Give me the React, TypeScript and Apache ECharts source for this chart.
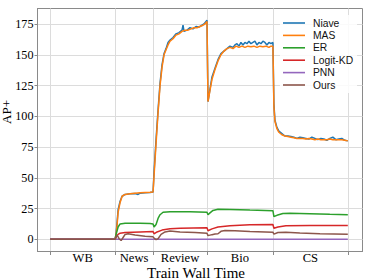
import React, { useEffect, useRef } from "react";
import * as echarts from "echarts";

const seriesNames = ["Niave", "MAS", "ER", "Logit-KD", "PNN", "Ours"];
const colors = ["#1f77b4", "#ff7f0e", "#2ca02c", "#d62728", "#9467bd", "#8c564b"];

const taskNames = ["WB", "News", "Review", "Bio", "CS"];
const taskBoundaries = [0, 65, 103, 157, 223, 298];
const taskLabelPos = [32.5, 84, 130, 190, 260.5];
const yTicks = [0, 25, 50, 75, 100, 125, 150, 175];

const niave = [
  [0, 0], [65, 0],
  [66, 5], [67, 14], [68, 24], [70, 31], [72, 35], [75, 36.5], [80, 37], [85, 37.2], [88, 36.5], [90, 37.5], [95, 37.8], [100, 38], [103, 38.5],
  [104, 55], [106, 81], [108, 105], [110, 127], [112, 142], [114, 151], [116, 155], [118, 160], [120, 162], [123, 164], [126, 167], [129, 168], [132, 170], [133, 174], [134, 169], [137, 170], [140, 172], [143, 171], [146, 173], [149, 172.5], [152, 174], [154, 175], [155, 176], [156, 177], [157, 178],
  [158, 112], [160, 122], [162, 132], [165, 139], [168, 146], [171, 151], [174, 153], [177, 155], [180, 157], [183, 156], [185, 158], [187, 159], [189, 157], [191, 160], [193, 158], [195, 160], [197, 159], [199, 161], [201, 159], [203, 160], [205, 161], [207, 158], [209, 160], [211, 159], [213, 161], [215, 160], [217, 158], [219, 160], [221, 159], [223, 160],
  [224, 110], [225, 97], [227, 91], [229, 88], [232, 86], [235, 84], [238, 84], [241, 83.5], [244, 83], [247, 82], [250, 83], [253, 82.5], [256, 82], [259, 81.5], [262, 83], [265, 82], [268, 81], [271, 82], [274, 81.5], [277, 80.5], [280, 82], [283, 83], [286, 81], [289, 81.5], [292, 82], [295, 80.5], [298, 80],
];

const mas = [
  [0, 0], [65, 0],
  [66, 4], [67, 12], [68, 22], [70, 30], [72, 35], [75, 36.5], [80, 37], [85, 37.5], [90, 37.8], [95, 38], [100, 38.2], [103, 38.5],
  [104, 52], [106, 78], [108, 103], [110, 125], [112, 140], [114, 150], [116, 154], [118, 158], [120, 161], [123, 163], [126, 166], [129, 167], [132, 169], [135, 170], [138, 170], [141, 171], [144, 172], [147, 172], [150, 173], [153, 174], [155, 175], [157, 177],
  [158, 112], [160, 121], [162, 130], [165, 138], [168, 145], [171, 150], [174, 153], [177, 155], [180, 156], [183, 155], [186, 157], [189, 156], [192, 157], [195, 156], [198, 157], [201, 156.5], [204, 157], [207, 156], [210, 157], [213, 156.5], [216, 157], [219, 156], [221, 157], [223, 157],
  [224, 108], [225, 96], [227, 90], [229, 87], [232, 85], [235, 84], [238, 83.5], [241, 83], [244, 82.5], [247, 82], [250, 82], [253, 82], [256, 81.5], [259, 82], [262, 81.5], [265, 81], [268, 81.5], [271, 81], [274, 81], [277, 81], [280, 81.5], [283, 81], [286, 81], [289, 81], [292, 81], [295, 80.5], [298, 80],
];

const er = [
  [0, 0], [65, 0], [66, 4], [68, 10], [70, 12.5], [75, 13], [90, 13], [100, 12.8], [103, 12.5],
  [104, 10], [106, 12], [108, 17], [110, 20], [113, 22], [120, 22.5], [140, 22.5], [157, 22],
  [158, 20], [160, 21.5], [163, 23.5], [168, 24.5], [180, 24.3], [200, 23.8], [223, 23.3],
  [224, 18.5], [227, 19.5], [233, 21], [240, 21.2], [260, 20.8], [280, 20.3], [298, 20],
];

const logitKD = [
  [0, 0], [65, 0], [66, 2], [68, 4], [70, 5], [75, 5.5], [90, 6], [103, 6.3],
  [104, 4.5], [107, 6], [112, 7.5], [120, 8.5], [130, 9], [157, 9.5],
  [158, 7], [162, 8.5], [168, 10], [180, 11], [200, 11.8], [223, 12],
  [224, 9], [228, 10], [236, 11], [260, 11.3], [298, 11.2],
];

const pnn = [
  [0, 0], [65, 0], [103, 0], [157, 0], [223, 0], [298, 0],
];

const ours = [
  [0, 0], [65, 0], [67, 3.5], [69, 0.5], [71, -1], [73, 1.5], [75, 4], [78, 4.5], [85, 3.5], [95, 2.5], [103, 2],
  [104, 1], [106, -0.3], [108, 0.5], [111, 4], [115, 6], [120, 6.8], [130, 6], [145, 5.5], [157, 5],
  [158, 3], [162, 3.8], [165, 4.3], [168, 4.5], [171, 6.5], [175, 7.2], [185, 7], [200, 6.3], [223, 5.8],
  [224, 4.2], [228, 5.5], [236, 5.8], [250, 5.2], [270, 4.5], [298, 4.2],
];

const allData = [niave, mas, er, logitKD, pnn, ours];

const SERIF = "'Liberation Serif', 'DejaVu Serif', serif";
const SANS = "'Liberation Sans', Arial, sans-serif";

export default function App() {
  const ref = useRef<HTMLDivElement>(null);
  useEffect(() => {
    document.body.style.margin = "0";
    if (!ref.current) return;
    const chart = echarts.init(ref.current, undefined, { renderer: "svg" });
    chart.setOption({
      animation: false,
      grid: {
        left: 37.5,
        right: 11.5,
        top: 8.5,
        bottom: 28.5,
        show: true,
        borderColor: "#8a8a8a",
        borderWidth: 1,
        backgroundColor: "transparent",
      },
      legend: {
        left: 280,
        top: 15,
        orient: "vertical",
        icon: "rect",
        itemWidth: 22,
        itemHeight: 1.6,
        itemGap: 0.4,
        padding: [2, 4, 2, 3],
        backgroundColor: "rgba(255,255,255,0.85)",
        textStyle: {
          fontFamily: SANS,
          fontSize: 10.3,
          lineHeight: 12,
          color: "#111",
          padding: [0, 0, 0, 3],
        },
        data: seriesNames,
      },
      xAxis: {
        type: "value",
        min: -12.7,
        max: 312.7,
        axisLine: { show: true, onZero: false, lineStyle: { color: "#8a8a8a", width: 1 } },
        axisTick: {
          show: true,
          length: 3.5,
          customValues: taskBoundaries,
          lineStyle: { color: "#8a8a8a" },
        },
        axisLabel: {
          customValues: taskLabelPos,
          formatter: (v: number) => {
            const i = taskLabelPos.indexOf(v);
            return i >= 0 ? taskNames[i] : "";
          },
          fontFamily: SERIF,
          fontSize: 12.6,
          lineHeight: 12,
          color: "#000",
          margin: 0.5,
        },
        splitLine: { show: true, lineStyle: { color: "#dcdcdc", width: 1 } },
      },
      yAxis: {
        type: "value",
        min: -9.9,
        max: 187.6,
        axisLine: { show: true, onZero: false, lineStyle: { color: "#8a8a8a", width: 1 } },
        axisTick: { show: true, length: 3, customValues: yTicks, lineStyle: { color: "#8a8a8a" } },
        axisLabel: {
          customValues: yTicks,
          fontFamily: SERIF,
          fontSize: 12.2,
          color: "#000",
          margin: 4,
        },
        splitLine: { show: true, lineStyle: { color: "#dcdcdc", width: 1 } },
      },
      graphic: [
        {
          type: "text",
          x: 6.5,
          y: 112,
          rotation: Math.PI / 2,
          style: {
            text: "AP+",
            font: `13px ${SERIF}`,
            fill: "#000",
            textAlign: "center",
            textVerticalAlign: "middle",
          },
        },
        {
          type: "text",
          x: 196,
          y: 272.8,
          style: {
            text: "Train Wall Time",
            font: `15px ${SERIF}`,
            lineHeight: 14,
            fill: "#000",
            textAlign: "center",
            textVerticalAlign: "middle",
          },
        },
      ],
      series: seriesNames.map((name, i) => ({
        name,
        type: "line",
        data: allData[i],
        showSymbol: false,
        symbol: "none",
        lineStyle: { color: colors[i], width: 1.5 },
        itemStyle: { color: colors[i] },
        z: 2 + i,
      })),
    });
    return () => chart.dispose();
  }, []);
  return <div ref={ref} style={{ width: 374, height: 280 }} />;
}
